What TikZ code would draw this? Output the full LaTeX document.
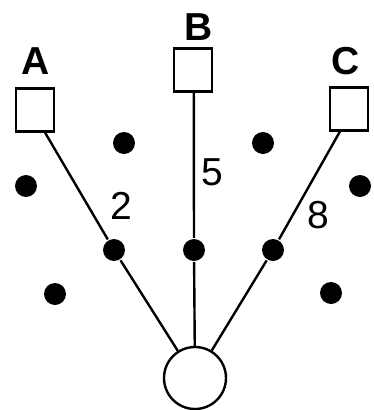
\documentclass[tikz,border=0pt]{standalone}
\usepackage{fontspec}
\setmainfont{Liberation Sans}

\begin{document}
\begin{tikzpicture}[x=1pt,y=-1pt,line width=2.4pt,
        font=\fontsize{39}{39}\selectfont,
        box/.style={draw,fill=white,minimum width=38pt,minimum height=43pt,inner sep=0pt},
        dot/.style={circle,fill,inner sep=0pt,minimum size=22pt},
        hub/.style={circle,draw,fill=white,minimum size=62pt,inner sep=0pt}]
        \useasboundingbox (0,0) rectangle (374,410);
        % stations and the hub
        \node[box] (A) at (35,110) {};
        \node[box] (B) at (193,70) {};
        \node[box] (C) at (349,109) {};
        \node[hub] (O) at (195,378) {};
        \node[font=\fontsize{39}{39}\selectfont\bfseries] (la) at (36,61) {A};
        \node[font=\fontsize{39}{39}\selectfont\bfseries] (lb) at (199,27) {B};
        \node[font=\fontsize{39}{39}\selectfont\bfseries] (lc) at (346,61) {C};
        % links, each with a dot on it
        \node[dot] (a1) at (114,250) {};
        \node[dot] (b1) at (194,250) {};
        \node[dot] (c1) at (273,250) {};
        \draw (A.-66) -- (a1) -- (O);
        \draw (B.-88) -- (b1) -- (O);
        \draw (C.-112) -- (c1) -- (O);
        \node (l2) at (121,206) {2};
        \node (l5) at (212,172) {5};
        \node (l8) at (318,215) {8};
        % loose dots
        \node[dot] (d1) at (124,143) {};
        \node[dot] (d2) at (263,143) {};
        \node[dot] (d3) at (26,186) {};
        \node[dot] (d4) at (360,186) {};
        \node[dot] (d5) at (55,294) {};
        \node[dot] (d6) at (331,293) {};
\end{tikzpicture}
\end{document}
